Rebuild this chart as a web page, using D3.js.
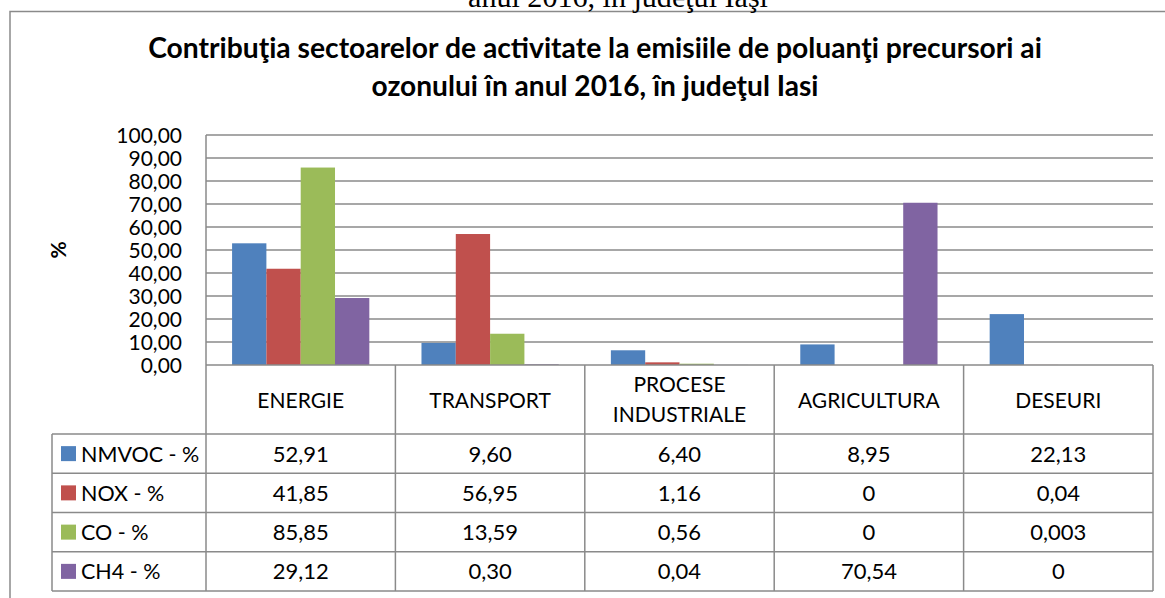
<!DOCTYPE html>
<html>
<head>
<meta charset="utf-8">
<script src="https://cdn.jsdelivr.net/npm/d3@7"></script>
<style>
  html, body { margin: 0; padding: 0; background: #fff; }
  svg { display: block; }
  text { font-family: Lato, "Open Sans", sans-serif; fill: #000; }
</style>
</head>
<body>
<svg id="chart" width="1165" height="598"></svg>
<script>
// ---------- DATA ----------
const pageCaption = "anul 2016, în judeţul Iaşi";
const titleLines = [
  "Contribuţia sectoarelor de activitate la emisiile de poluanţi precursori ai",
  "ozonului în anul 2016, în judeţul Iasi"
];
const yAxisLabel = "%";
const categories = ["ENERGIE", "TRANSPORT", "PROCESE INDUSTRIALE", "AGRICULTURA", "DESEURI"];
const categoryLines = [["ENERGIE"], ["TRANSPORT"], ["PROCESE", "INDUSTRIALE"], ["AGRICULTURA"], ["DESEURI"]];
const seriesNames = ["NMVOC - %", "NOX - %", "CO - %", "CH4 - %"];
const nmvoc = [52.91, 9.60, 6.40, 8.95, 22.13];
const nox   = [41.85, 56.95, 1.16, 0, 0.04];
const co    = [85.85, 13.59, 0.56, 0, 0.003];
const ch4   = [29.12, 0.30, 0.04, 70.54, 0];
const yTicks = [0, 10, 20, 30, 40, 50, 60, 70, 80, 90, 100];
const seriesColors = ["#4F81BD", "#C0504D", "#9BBB59", "#8064A2"];

const seriesValues = [nmvoc, nox, co, ch4];

// ---------- LAYOUT ----------
const svg = d3.select("#chart");
const plotL = 206, plotR = 1153, plotT = 135, plotB = 365;
const tableL = 52;
const catRowB = 434;
const rowH = (591 - 434) / 4;
const gridColor = "#8a8a8a";

const x = d3.scaleBand().domain(categories).range([plotL, plotR]).paddingInner(0).paddingOuter(0);
const xs = d3.scaleBand().domain(seriesNames).range([0, x.bandwidth()]).paddingInner(0).paddingOuter(0.76);
const y = d3.scaleLinear().domain([0, 100]).range([plotB, plotT]);

const fmtCell = v => {
  if (v === 0) return "0";
  if (Math.abs(v) < 0.01) return String(v).replace(".", ",");
  return d3.format(".2f")(v).replace(".", ",");
};
const fmtTick = v => d3.format(".2f")(v).replace(".", ",");

// chart frame
svg.append("rect").attr("x", 10).attr("y", 11.5).attr("width", 1200).attr("height", 700)
  .attr("fill", "#fff").attr("stroke", gridColor).attr("stroke-width", 1.5);

// caption above frame (cut off at the top edge, as in the source page)
function fitWidth(sel, target) {
  const w = sel.node().getComputedTextLength();
  const fs = parseFloat(sel.attr("font-size"));
  sel.attr("font-size", fs * target / w);
}
const cap = svg.append("text").attr("x", 618).attr("y", 7).attr("text-anchor", "middle")
  .attr("font-size", 30).style("font-family", "'Liberation Serif', 'Times New Roman', serif")
  .text(pageCaption);
fitWidth(cap, 300);

// title
const titleW = [894, 447];
const titleY = [58, 96];
titleLines.forEach((t, i) => {
  const s = svg.append("text").attr("x", 595).attr("y", titleY[i]).attr("text-anchor", "middle")
    .attr("font-size", 26).attr("font-weight", "bold").text(t);
  fitWidth(s, titleW[i]);
});

// gridlines
svg.append("g").selectAll("line").data(yTicks.filter(d => d > 0)).join("line")
  .attr("x1", plotL).attr("x2", plotR)
  .attr("y1", d => y(d)).attr("y2", d => y(d))
  .attr("stroke", gridColor).attr("stroke-width", 1.5);

// bars
const groups = svg.append("g").selectAll("g").data(categories).join("g")
  .attr("transform", d => `translate(${x(d)},0)`);
groups.selectAll("rect").data((c, ci) => seriesNames.map((s, si) => ({ s, si, v: seriesValues[si][ci] })))
  .join("rect")
  .attr("x", d => xs(d.s))
  .attr("width", xs.bandwidth())
  .attr("y", d => y(d.v))
  .attr("height", d => y(0) - y(d.v))
  .attr("fill", d => seriesColors[d.si]);

// y axis
const yAxis = d3.axisLeft(y).tickValues(yTicks).tickSize(0).tickPadding(0).tickFormat(fmtTick);
const ya = svg.append("g").attr("transform", `translate(182,0)`).call(yAxis);
ya.select(".domain").remove();
ya.selectAll("text").attr("font-size", 21).style("font-family", "Lato, sans-serif")
  .attr("fill", "#000").attr("dy", "0.36em");

svg.append("text").attr("transform", "translate(57,250) rotate(-90)")
  .attr("text-anchor", "middle").attr("dominant-baseline", "central")
  .attr("font-size", 21).attr("font-weight", "bold").text(yAxisLabel);

// table lines
const tl = svg.append("g").attr("stroke", gridColor).attr("stroke-width", 1.5);
tl.append("line").attr("x1", plotL).attr("x2", plotL).attr("y1", plotT).attr("y2", 591);
tl.append("line").attr("x1", plotL).attr("x2", plotR).attr("y1", plotB).attr("y2", plotB);
tl.selectAll("line.col").data(categories).join("line").attr("class", "col")
  .attr("x1", d => x(d) + x.bandwidth()).attr("x2", d => x(d) + x.bandwidth())
  .attr("y1", plotB).attr("y2", 591);
tl.selectAll("line.row").data(d3.range(5)).join("line").attr("class", "row")
  .attr("x1", tableL).attr("x2", plotR)
  .attr("y1", i => catRowB + i * rowH).attr("y2", i => catRowB + i * rowH);
tl.append("line").attr("x1", tableL).attr("x2", tableL).attr("y1", catRowB).attr("y2", 591);

// category labels
const catG = svg.append("g");
categories.forEach((c, ci) => {
  const lines = categoryLines[ci];
  const cx = x(c) + x.bandwidth() / 2;
  const base = lines.length === 1 ? [408] : [392, 422];
  lines.forEach((ln, li) => {
    catG.append("text").attr("x", cx).attr("y", base[li]).attr("text-anchor", "middle")
      .attr("font-size", 21).text(ln);
  });
});

// data rows
seriesNames.forEach((s, si) => {
  const cy = catRowB + si * rowH + rowH / 2;
  svg.append("rect").attr("x", 61).attr("y", cy - 7.5).attr("width", 15).attr("height", 15)
    .attr("fill", seriesColors[si]);
  svg.append("text").attr("x", 81).attr("y", cy + 8).attr("font-size", 21.5).text(s);
  categories.forEach((c, ci) => {
    svg.append("text").attr("x", x(c) + x.bandwidth() / 2).attr("y", cy + 8)
      .attr("text-anchor", "middle").attr("font-size", 22)
      .text(fmtCell(seriesValues[si][ci]));
  });
});
</script>
</body>
</html>
